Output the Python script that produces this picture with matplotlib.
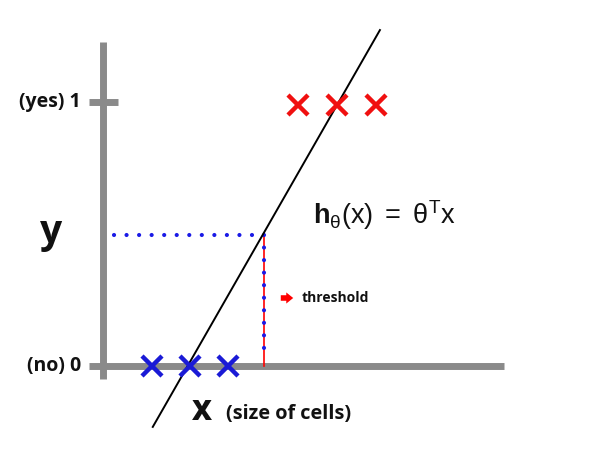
import matplotlib
matplotlib.use("Agg")
import matplotlib.pyplot as plt

plt.rcParams['mathtext.fontset'] = 'custom'
plt.rcParams['mathtext.rm'] = 'Liberation Sans'
plt.rcParams['mathtext.bf'] = 'Liberation Sans:bold'
plt.rcParams['mathtext.it'] = 'Liberation Sans'

# data
no_x = [1.25, 2.25, 3.23]
no_y = [0, 0, 0]
yes_x = [5.06, 6.06, 7.08]
yes_y = [0.99, 0.99, 0.99]
line_x = [1.28, 7.18]
line_y = [-0.233, 1.273]
threshold_x = 4.16
threshold_y = 0.495
y_ticks = [0, 1]
y_tick_labels = ["(no) 0", "(yes) 1"]

fig = plt.figure(figsize=(6, 4.59), dpi=100)
ax = fig.add_axes([0, 0, 1, 1])
ax.set_xlim(-2.688, 12.896)
ax.set_ylim(-0.3548, 1.3871)
ax.axis('off')

gray = '#8a8a8a'
# axes lines
ax.plot([0, 0], [-0.0512, 1.2277], color=gray, lw=5, solid_capstyle='butt', zorder=1)
ax.plot([-0.377, 10.40], [0, 0], color=gray, lw=5, solid_capstyle='butt', zorder=1)
ax.plot([-0.377, 0.377], [1, 1], color=gray, lw=5, solid_capstyle='butt', zorder=1)

# hypothesis line
ax.plot(line_x, line_y, color='black', lw=1.4, zorder=4)

# threshold red line
ax.plot([threshold_x, threshold_x], [0, threshold_y], color='red', lw=1.2, zorder=2)
# dotted guides
ax.plot([0.27, threshold_x], [threshold_y, threshold_y], color='#1a1ae6', lw=3.0,
        linestyle=(0, (0.01, 3.0)), dash_capstyle='round', zorder=3)
ax.plot([threshold_x, threshold_x], [threshold_y, 0.05], color='#1a1ae6', lw=3.0,
        linestyle=(0, (0.01, 3.0)), dash_capstyle='round', zorder=3)

# markers
ax.plot(no_x, no_y, 'x', color='#1a1ad6', ms=15, mew=3.2, zorder=5, linestyle='none')
ax.plot(yes_x, yes_y, 'x', color='#f01010', ms=15, mew=3.2, zorder=5, linestyle='none')

def P(px, py):
    return (px / 600, 1 - py / 459)

tf = ax.transAxes
for val, lab in zip(y_ticks, y_tick_labels):
    ax.text(81 / 600, val, lab, transform=ax.get_yaxis_transform(), ha='right', va='center',
            fontsize=14, fontfamily='Open Sans', fontweight='bold', color='#111111')

ax.text(*P(51, 232), 'y', transform=tf, ha='center', va='center', fontsize=28,
        fontfamily='Open Sans', fontweight='bold', color='#111111')

ax.text(*P(313, 215), r'$\mathbf{h}_{\mathrm{θ}}\mathrm{(x)\ =\ θ}^{\mathrm{T}}\mathrm{x}$',
        transform=tf, ha='left', va='center', fontsize=19.5, color='#111111')

ax.annotate('', xy=P(296, 298), xytext=P(278, 298), xycoords=tf, textcoords=tf,
            arrowprops=dict(arrowstyle='simple,head_length=0.5,head_width=0.8,tail_width=0.4',
                            color='red', lw=0))
ax.text(*P(302, 298), 'threshold', transform=tf, ha='left', va='center', fontsize=10,
        fontfamily='Open Sans', fontweight='bold', color='#111111')

ax.text(*P(202, 412), 'X', transform=tf, ha='center', va='center', fontsize=20,
        fontfamily='Open Sans', fontweight='heavy', color='#111111')
ax.text(*P(226, 414), '(size of cells)', transform=tf, ha='left', va='center', fontsize=14.3,
        fontfamily='Open Sans', fontweight='bold', color='#111111')

fig.savefig('out.png', dpi=100)
